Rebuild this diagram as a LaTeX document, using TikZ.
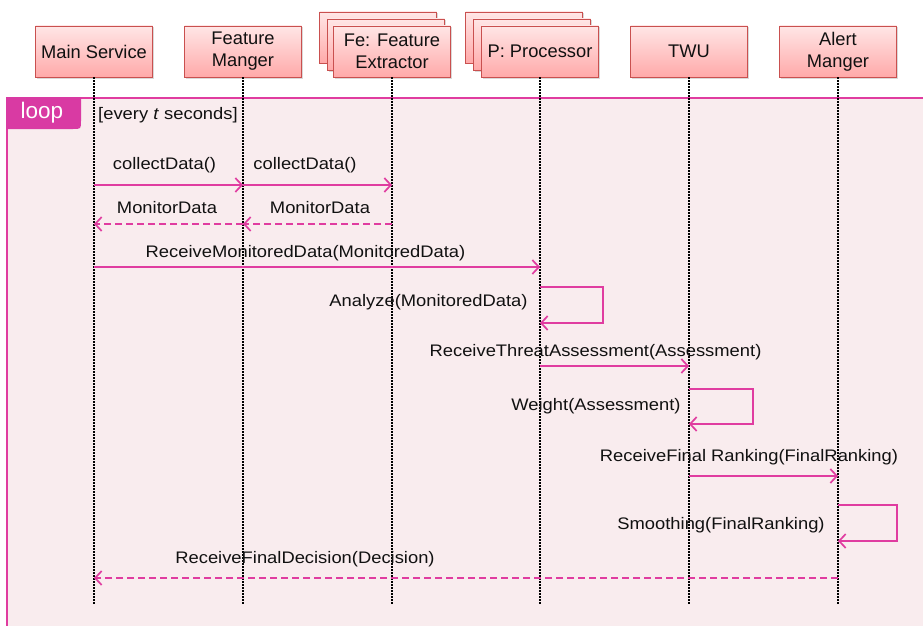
\documentclass[tikz,border=0pt]{standalone}
\usepackage{fontspec}
\setmainfont{Liberation Sans}
\newfontfamily\msgfont{Liberation Sans}[FakeStretch=1.1]
\usetikzlibrary{arrows.meta,shadows}
\definecolor{msgc}{HTML}{E03CA0}
\definecolor{tagc}{HTML}{D93AA3}
\definecolor{framefill}{HTML}{F9ECEE}
\definecolor{boxline}{HTML}{C9504F}
\definecolor{boxtop}{HTML}{FFE6E6}
\definecolor{boxbot}{HTML}{FFA9A9}
\definecolor{txt}{HTML}{111111}
\begin{document}
\begin{tikzpicture}[x=1pt,y=-1pt,
  lifebox/.style={draw=boxline, line width=0.8pt, top color=boxtop, bottom color=boxbot,
    minimum width=117pt, minimum height=51pt, inner sep=0pt, align=center, text=txt,
    font=\fontsize{18.3}{22}\selectfont,
    drop shadow={shadow xshift=1pt, shadow yshift=-1.5pt, opacity=0.3}},
  lifeline/.style={line width=1.5pt, dash pattern=on 1.5pt off 1.5pt, black},
  call/.style={draw=msgc, line width=1.6pt,
    -{Straight Barb[length=6.5pt,width=14pt,line width=1.7pt]}},
  reply/.style={call, dash pattern=on 7pt off 4pt},
  msg/.style={font=\msgfont\fontsize{16.7}{20}\selectfont, text=txt, inner sep=0pt},
]
\useasboundingbox (0,0) rectangle (923,626);
\clip (0,0) rectangle (923,626);

% loop frame
\fill[framefill] (7,98) rectangle (940,640);
\draw[msgc, line width=2.5pt] (7,640) -- (7,98) -- (940,98);
\fill[tagc] (6,97) -- (81,97) -- (81,121) .. controls (81,129) .. (73,129) -- (6,129) -- cycle;
\node[white, font=\fontsize{22.5}{26}\selectfont, inner sep=0pt] (looplbl) at (42,113) {loop};
\node[msg, anchor=west] (guard) at (98,115) {[every \textit{t} seconds]};

% stacked instances
\node[lifebox] (feC) at (378,37.5) {};
\node[lifebox] (feB) at (386,44.5) {};
\node[lifebox] (prC) at (524,37.5) {};
\node[lifebox] (prB) at (532,44.5) {};

% participants
\node[lifebox] (ms)  at (94,51.5)  {Main Service};
\node[lifebox] (fm)  at (243,51.5) {Feature\\Manger};
\node[lifebox] (fe)  at (392,51.5) {Fe: Feature\\Extractor};
\node[lifebox] (pr)  at (540,51.5) {P: Processor};
\node[lifebox] (twu) at (689,51.5) {TWU};
\node[lifebox] (am)  at (838,51.5) {Alert\\Manger};

% lifelines
\coordinate (bottom) at (0,605);
\foreach \p in {ms,fm,fe,pr,twu,am}
  \draw[lifeline] (\p.south) -- (\p.south |- bottom);

% message rows
\coordinate (r1) at (0,185);
\coordinate (r2) at (0,224);
\coordinate (r3) at (0,267);
\coordinate (r4) at (0,366);
\coordinate (r5) at (0,476);
\coordinate (r6) at (0,578);

\draw[call] (ms |- r1) -- (fm |- r1);
\node[msg] (l1) at (164.5,165) {collectData()};
\draw[call] (fm |- r1) -- (fe |- r1);
\node[msg] (l2) at (305,165) {collectData()};

\draw[reply] (fm |- r2) -- (ms |- r2);
\node[msg] (l3) at (167,208) {MonitorData};
\draw[reply] (fe |- r2) -- (fm |- r2);
\node[msg] (l4) at (320,208) {MonitorData};

\draw[call] (ms |- r3) -- (pr |- r3);
\node[msg] (l5) at (305.5,253) {ReceiveMonitoredData(MonitoredData)};

% Analyze self call
\coordinate (a1) at (603,287);
\coordinate (a2) at (603,323);
\draw[call] (pr |- a1) -- (a1) -- (a2) -- (pr |- a2);
\node[msg] (l6) at (428.5,302) {Analyze(MonitoredData)};

\draw[call] (pr |- r4) -- (twu |- r4);
\node[msg] (l7) at (595.5,352) {ReceiveThreatAssessment(Assessment)};

% Weight self call
\coordinate (w1) at (753,389);
\coordinate (w2) at (753,424);
\draw[call] (twu |- w1) -- (w1) -- (w2) -- (twu |- w2);
\node[msg] (l8) at (596,406) {Weight(Assessment)};

\draw[call] (twu |- r5) -- (am |- r5);
\node[msg] (l9) at (749,457) {ReceiveFinal Ranking(FinalRanking)};

% Smoothing self call
\coordinate (s1) at (897,505);
\coordinate (s2) at (897,541);
\draw[call] (am |- s1) -- (s1) -- (s2) -- (am |- s2);
\node[msg] (l10) at (721,525) {Smoothing(FinalRanking)};

\draw[reply] (am |- r6) -- (ms |- r6);
\node[msg] (l11) at (305,559) {ReceiveFinalDecision(Decision)};
\end{tikzpicture}
\end{document}
